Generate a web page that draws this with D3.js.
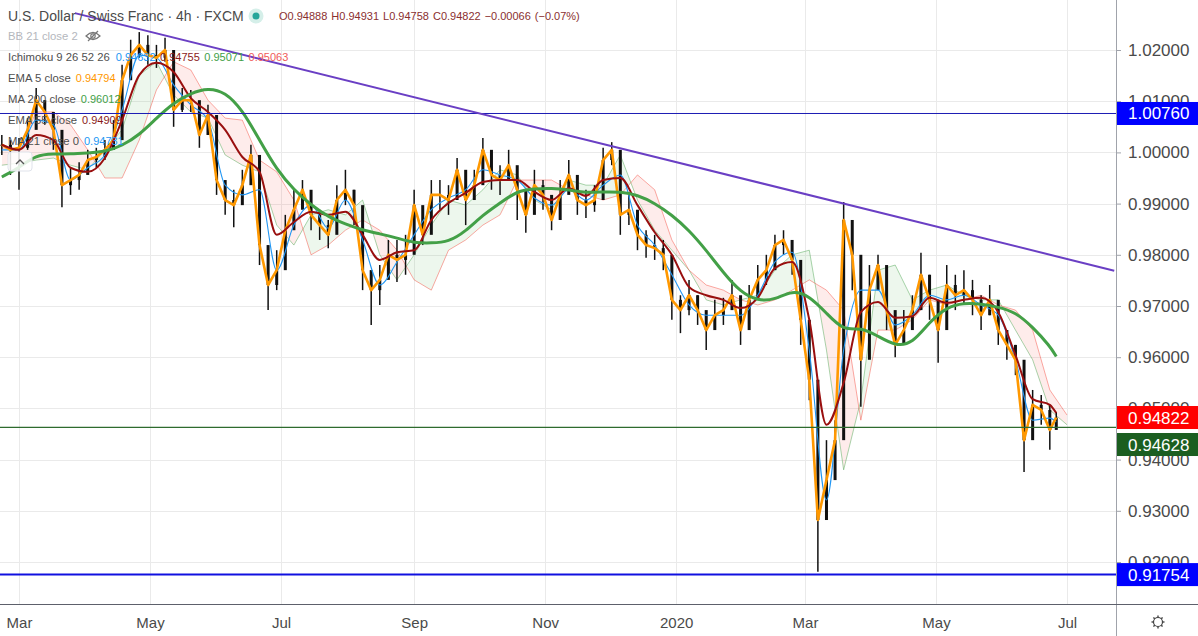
<!DOCTYPE html>
<html><head><meta charset="utf-8">
<script src="https://cdn.jsdelivr.net/npm/d3@7"></script>
<style>
html,body{margin:0;padding:0;background:#fff;}
svg{display:block;font-family:"Liberation Sans",Arial,sans-serif;}
</style></head><body>
<svg id="c" width="1198" height="636"></svg>
<script>
// ---------- DATA ----------
const priceDates = ["2019-02-21","2019-02-25","2019-03-01","2019-03-05","2019-03-09","2019-03-13","2019-03-17","2019-03-21","2019-03-25","2019-03-29",
"2019-04-02","2019-04-06","2019-04-10","2019-04-14","2019-04-18","2019-04-22","2019-04-26","2019-04-30","2019-05-04","2019-05-08",
"2019-05-12","2019-05-16","2019-05-20","2019-05-24","2019-05-28","2019-06-01","2019-06-05","2019-06-09","2019-06-13","2019-06-17",
"2019-06-21","2019-06-25","2019-06-29","2019-07-03","2019-07-07","2019-07-11","2019-07-15","2019-07-19","2019-07-23","2019-07-27",
"2019-07-31","2019-08-04","2019-08-08","2019-08-12","2019-08-16","2019-08-20","2019-08-24","2019-08-28","2019-09-01","2019-09-05",
"2019-09-09","2019-09-13","2019-09-17","2019-09-21","2019-09-25","2019-09-29","2019-10-03","2019-10-07","2019-10-11","2019-10-15",
"2019-10-19","2019-10-23","2019-10-27","2019-10-31","2019-11-04","2019-11-08","2019-11-12","2019-11-16","2019-11-20","2019-11-24",
"2019-11-28","2019-12-02","2019-12-06","2019-12-10","2019-12-14","2019-12-18","2019-12-22","2019-12-26","2019-12-30","2020-01-03",
"2020-01-07","2020-01-11","2020-01-15","2020-01-19","2020-01-23","2020-01-27","2020-01-31","2020-02-04","2020-02-08","2020-02-12",
"2020-02-16","2020-02-20","2020-02-24","2020-02-28","2020-03-03","2020-03-07","2020-03-11","2020-03-15","2020-03-19","2020-03-23",
"2020-03-27","2020-03-31","2020-04-04","2020-04-08","2020-04-12","2020-04-16","2020-04-20","2020-04-24","2020-04-28","2020-05-02",
"2020-05-06","2020-05-10","2020-05-14","2020-05-18","2020-05-22","2020-05-26","2020-05-30","2020-06-03","2020-06-07","2020-06-11",
"2020-06-15","2020-06-19","2020-06-23","2020-06-26"];

const closes = [1.0015,1.0005,1.0009,1.0044,1.0102,1.0079,1.0044,0.9936,0.9946,0.9956,
0.9985,0.9991,1.0005,1.0024,1.0141,1.0190,1.0210,1.0190,1.0185,1.0200,
1.0083,1.0102,1.0102,1.0034,1.0073,0.9946,0.9907,0.9897,0.9936,0.9995,
0.9819,0.9741,0.9770,0.9848,0.9888,0.9927,0.9878,0.9858,0.9839,0.9907,
0.9927,0.9897,0.9770,0.9731,0.9751,0.9800,0.9790,0.9800,0.9897,0.9839,
0.9917,0.9917,0.9907,0.9966,0.9907,0.9936,1.0005,0.9956,0.9946,0.9975,
0.9927,0.9878,0.9936,0.9917,0.9868,0.9917,0.9956,0.9907,0.9897,0.9907,
0.9985,1.0005,0.9878,0.9888,0.9839,0.9819,0.9813,0.9800,0.9712,0.9692,
0.9721,0.9692,0.9653,0.9682,0.9692,0.9721,0.9653,0.9712,0.9751,0.9770,
0.9819,0.9829,0.9790,0.9673,0.9556,0.9282,0.9360,0.9438,0.9868,0.9800,
0.9595,0.9731,0.9780,0.9692,0.9624,0.9653,0.9692,0.9761,0.9712,0.9653,
0.9741,0.9721,0.9731,0.9712,0.9682,0.9712,0.9653,0.9624,0.9595,0.9438,
0.9507,0.9497,0.9458,0.94822];

const highs = [1.0034,1.0024,1.0028,1.0067,1.0126,1.0102,1.0073,0.9975,0.9970,0.9981,
1.0005,1.0009,1.0024,1.0063,1.0171,1.0220,1.0235,1.0229,1.0210,1.0224,
1.0112,1.0126,1.0122,1.0067,1.0093,0.9985,0.9936,0.9927,0.9966,1.0015,
0.9848,0.9780,0.9809,0.9878,0.9927,0.9946,0.9907,0.9888,0.9868,0.9936,
0.9966,0.9927,0.9819,0.9770,0.9780,0.9829,0.9829,0.9839,0.9927,0.9888,
0.9946,0.9946,0.9936,0.9989,0.9936,0.9966,1.0028,0.9985,0.9975,1.0005,
0.9966,0.9907,0.9966,0.9946,0.9907,0.9946,0.9985,0.9936,0.9927,0.9936,
1.0009,1.0020,0.9917,0.9917,0.9868,0.9848,0.9839,0.9829,0.9751,0.9721,
0.9751,0.9721,0.9682,0.9712,0.9716,0.9751,0.9692,0.9741,0.9780,0.9800,
0.9839,0.9848,0.9819,0.9721,0.9595,0.9360,0.9438,0.9477,0.9903,0.9848,
0.9653,0.9780,0.9800,0.9731,0.9673,0.9692,0.9721,0.9804,0.9761,0.9712,
0.9780,0.9761,0.9770,0.9751,0.9721,0.9741,0.9692,0.9653,0.9624,0.9516,
0.9536,0.9526,0.9507,0.94931];

const lows = [0.9995,0.9956,0.9927,1.0005,1.0073,1.0054,1.0005,0.9893,0.9917,0.9927,
0.9962,0.9970,0.9985,1.0005,1.0112,1.0161,1.0185,1.0171,1.0165,1.0177,
1.0050,1.0079,1.0079,1.0009,1.0048,0.9917,0.9878,0.9854,0.9917,0.9966,
0.9780,0.9692,0.9731,0.9819,0.9858,0.9897,0.9848,0.9829,0.9813,0.9878,
0.9897,0.9858,0.9731,0.9663,0.9702,0.9761,0.9747,0.9761,0.9858,0.9819,
0.9888,0.9888,0.9878,0.9927,0.9858,0.9907,0.9966,0.9927,0.9917,0.9946,
0.9868,0.9843,0.9907,0.9888,0.9848,0.9888,0.9927,0.9878,0.9872,0.9884,
0.9956,0.9975,0.9839,0.9858,0.9809,0.9794,0.9790,0.9770,0.9673,0.9647,
0.9682,0.9663,0.9614,0.9653,0.9663,0.9692,0.9624,0.9682,0.9721,0.9741,
0.9790,0.9800,0.9761,0.9624,0.9516,0.9181,0.9302,0.9399,0.9790,0.9731,
0.9503,0.9673,0.9741,0.9653,0.9600,0.9624,0.9663,0.9731,0.9673,0.9589,
0.9712,0.9692,0.9702,0.9682,0.9653,0.9682,0.9624,0.9595,0.9565,0.9376,
0.9477,0.9468,0.9419,0.94758];

const maDates = ["2019-02-21","2019-03-01","2019-03-09","2019-03-17","2019-03-25","2019-04-02","2019-04-10","2019-04-18","2019-04-26","2019-05-04",
"2019-05-12","2019-05-20","2019-05-28","2019-06-05","2019-06-13","2019-06-21","2019-06-29","2019-07-07","2019-07-15","2019-07-23",
"2019-07-31","2019-08-08","2019-08-16","2019-08-24","2019-09-01","2019-09-09","2019-09-17","2019-09-25","2019-10-03","2019-10-11",
"2019-10-19","2019-10-27","2019-11-04","2019-11-12","2019-11-20","2019-11-28","2019-12-06","2019-12-14","2019-12-22","2019-12-30",
"2020-01-07","2020-01-15","2020-01-23","2020-01-31","2020-02-08","2020-02-16","2020-02-24","2020-03-03","2020-03-11","2020-03-19",
"2020-03-27","2020-04-04","2020-04-12","2020-04-20","2020-04-28","2020-05-06","2020-05-14","2020-05-22","2020-05-30","2020-06-07",
"2020-06-15","2020-06-23","2020-06-26"];

const ema55 = [1.0015,1.0005,1.0034,1.0024,0.9970,0.9962,0.9989,1.0063,1.0151,1.0175,
1.0157,1.0106,1.0079,1.0044,0.9991,0.9962,0.9839,0.9864,0.9884,0.9878,
0.9884,0.9839,0.9790,0.9805,0.9809,0.9868,0.9901,0.9921,0.9942,0.9946,
0.9946,0.9923,0.9907,0.9930,0.9915,0.9946,0.9950,0.9897,0.9844,0.9800,
0.9737,0.9721,0.9712,0.9696,0.9716,0.9774,0.9786,0.9673,0.9468,0.9550,
0.9688,0.9708,0.9677,0.9680,0.9716,0.9706,0.9712,0.9716,0.9688,0.9604,
0.9518,0.9507,0.94909];

const ma200 = [0.9952,0.9970,0.9995,0.9997,0.9997,0.9999,1.0001,1.0013,1.0034,1.0067,
1.0097,1.0116,1.0126,1.0118,1.0083,1.0024,0.9966,0.9927,0.9897,0.9874,
0.9860,0.9848,0.9841,0.9833,0.9823,0.9823,0.9825,0.9846,0.9878,0.9901,
0.9925,0.9929,0.9930,0.9927,0.9921,0.9923,0.9923,0.9917,0.9901,0.9878,
0.9848,0.9809,0.9765,0.9727,0.9710,0.9712,0.9731,0.9720,0.9686,0.9651,
0.9659,0.9641,0.9622,0.9626,0.9669,0.9698,0.9706,0.9704,0.9698,0.9688,
0.9659,0.9622,0.96012];

const ma21 = [1.0005,1.0005,1.0063,1.0054,0.9946,0.9970,0.9995,1.0083,1.0190,1.0185,
1.0132,1.0093,1.0063,0.9936,0.9917,0.9927,0.9770,0.9858,0.9897,0.9852,
0.9907,0.9829,0.9741,0.9786,0.9839,0.9888,0.9911,0.9927,0.9966,0.9956,
0.9946,0.9911,0.9897,0.9927,0.9907,0.9936,0.9956,0.9858,0.9819,0.9761,
0.9702,0.9682,0.9682,0.9682,0.9721,0.9786,0.9805,0.9614,0.9321,0.9614,
0.9731,0.9731,0.9663,0.9682,0.9721,0.9712,0.9721,0.9702,0.9682,0.9595,
0.9477,0.9481,0.94731];

const cloudDates = ["2019-02-21","2019-03-01","2019-03-09","2019-03-17","2019-03-25","2019-04-02","2019-04-10","2019-04-18","2019-04-26","2019-05-04",
"2019-05-12","2019-05-20","2019-05-28","2019-06-05","2019-06-13","2019-06-21","2019-06-29","2019-07-07","2019-07-15","2019-07-23",
"2019-07-31","2019-08-08","2019-08-16","2019-08-24","2019-09-01","2019-09-09","2019-09-17","2019-09-25","2019-10-03","2019-10-11",
"2019-10-19","2019-10-27","2019-11-04","2019-11-12","2019-11-20","2019-11-28","2019-12-06","2019-12-14","2019-12-22","2019-12-30",
"2020-01-07","2020-01-15","2020-01-23","2020-01-31","2020-02-08","2020-02-16","2020-02-24","2020-03-03","2020-03-11","2020-03-19",
"2020-03-27","2020-04-04","2020-04-12","2020-04-20","2020-04-28","2020-05-06","2020-05-14","2020-05-22","2020-05-30","2020-06-07",
"2020-06-15","2020-06-23","2020-07-01"];

const spanA = [0.9975,0.9979,0.9985,0.9989,0.9975,0.9966,1.0005,1.0044,1.0151,1.0177,
1.0112,1.0079,1.0067,0.9995,0.9975,0.9962,0.9858,0.9819,0.9878,0.9888,
0.9878,0.9907,0.9800,0.9751,0.9800,0.9858,0.9907,0.9897,0.9927,0.9966,
0.9956,0.9907,0.9888,0.9946,0.9936,0.9936,0.9995,0.9907,0.9848,0.9809,
0.9770,0.9712,0.9702,0.9712,0.9721,0.9770,0.9800,0.9809,0.9614,0.9380,
0.9516,0.9770,0.9780,0.9712,0.9731,0.9741,0.9721,0.9712,0.9712,0.9653,
0.9595,0.9497,0.9468];

const spanB = [1.0009,1.0005,1.0079,1.0079,1.0054,1.0005,0.9950,0.9950,1.0024,1.0122,
1.0177,1.0161,1.0102,1.0067,1.0063,0.9985,0.9962,0.9907,0.9800,0.9819,
0.9848,0.9868,0.9848,0.9809,0.9751,0.9731,0.9809,0.9829,0.9858,0.9878,
0.9946,0.9946,0.9946,0.9927,0.9917,0.9907,0.9917,0.9956,0.9927,0.9829,
0.9770,0.9741,0.9731,0.9712,0.9702,0.9712,0.9731,0.9751,0.9731,0.9692,
0.9477,0.9653,0.9653,0.9673,0.9712,0.9702,0.9712,0.9721,0.9702,0.9692,
0.9653,0.9536,0.9487];

const trendDates = ["2019-03-27","2020-07-23"];
const trendValues = [1.0272, 0.9769];

const levelValues = [1.0076, 0.94628, 0.91754];
const levelNames = ["resistance", "support", "low"];
const lastPrice = 0.94822;

const priceTicks = [1.02,1.01,1.00,0.99,0.98,0.97,0.96,0.95,0.94,0.93,0.92];
const monthTickDates = ["2019-03-01","2019-05-01","2019-07-01","2019-09-01","2019-11-01","2020-01-01","2020-03-01","2020-05-01","2020-07-01"];
const monthTickLabels = ["Mar","May","Jul","Sep","Nov","2020","Mar","May","Jul"];

const titleText = "U.S. Dollar / Swiss Franc · 4h · FXCM";
const ohlcLabels = ["O0.94888","H0.94931","L0.94758","C0.94822","−0.00066","(−0.07%)"];
const ichimokuValues = ["0.94632","0.94755","0.95071","0.95063"];

// ---------- CHART ----------
const W = 1198, H = 636, PR = 1116, PB = 604;
const parse = d3.timeParse("%Y-%m-%d");
const svg = d3.select("#c");
const x = d3.scaleTime().domain([parse("2019-03-01"), parse("2020-07-01")]).range([19, 1067]);
const y = d3.scaleLinear().domain([0.92, 1.02]).range([562, 50]);
const fmt = d3.format(".5f");

const defs = svg.append("defs");
defs.append("clipPath").attr("id","plotClip").append("rect").attr("x",0).attr("y",0).attr("width",PR).attr("height",PB);

// grid
const grid = svg.append("g");
grid.selectAll("line.h").data(priceTicks).join("line")
  .attr("x1",0).attr("x2",PR).attr("y1",d=>Math.round(y(d))+0.5).attr("y2",d=>Math.round(y(d))+0.5)
  .attr("stroke","#eaeaea").attr("stroke-width",1);
grid.selectAll("line.v").data(monthTickDates).join("line")
  .attr("x1",d=>Math.round(x(parse(d)))+0.5).attr("x2",d=>Math.round(x(parse(d)))+0.5).attr("y1",0).attr("y2",PB)
  .attr("stroke","#eaeaea").attr("stroke-width",1);

const plot = svg.append("g").attr("clip-path","url(#plotClip)");

// Ichimoku cloud
const cloud = cloudDates.map((d,i)=>({d:parse(d), a:spanA[i], b:spanB[i]}));
defs.append("clipPath").attr("id","aboveB").append("path")
  .attr("d", d3.area().x(d=>x(d.d)).y0(0).y1(d=>y(d.b))(cloud));
defs.append("clipPath").attr("id","belowB").append("path")
  .attr("d", d3.area().x(d=>x(d.d)).y0(PB).y1(d=>y(d.b))(cloud));
plot.append("path").attr("clip-path","url(#aboveB)")
  .attr("d", d3.area().x(d=>x(d.d)).y0(PB).y1(d=>y(d.a))(cloud))
  .attr("fill","rgba(76,175,80,0.10)");
plot.append("path").attr("clip-path","url(#belowB)")
  .attr("d", d3.area().x(d=>x(d.d)).y0(0).y1(d=>y(d.a))(cloud))
  .attr("fill","rgba(244,67,54,0.10)");
plot.append("path").datum(cloud).attr("fill","none").attr("stroke","rgba(67,160,71,0.45)").attr("stroke-width",1)
  .attr("d", d3.line().x(d=>x(d.d)).y(d=>y(d.a)));
plot.append("path").datum(cloud).attr("fill","none").attr("stroke","rgba(244,67,54,0.45)").attr("stroke-width",1)
  .attr("d", d3.line().x(d=>x(d.d)).y(d=>y(d.b)));

// candles
const price = priceDates.map((d,i)=>({d:parse(d), c:closes[i], h:highs[i], l:lows[i], o: i>0?closes[i-1]:closes[i]}));
const cg = plot.append("g");
cg.selectAll("line.w").data(price).join("line")
  .attr("x1",d=>x(d.d)).attr("x2",d=>x(d.d)).attr("y1",d=>y(d.h)).attr("y2",d=>y(d.l))
  .attr("stroke","#111").attr("stroke-width",1.5);
cg.selectAll("rect.b").data(price).join("rect")
  .attr("x",d=>x(d.d)-1.5).attr("width",3)
  .attr("y",d=>y(Math.max(d.o,d.c))).attr("height",d=>Math.max(1,Math.abs(y(d.o)-y(d.c))))
  .attr("fill","#111");

const ma = maDates.map((d,i)=>({d:parse(d), e55:ema55[i], m200:ma200[i], m21:ma21[i]}));

// MA 21 (blue)
plot.append("path").datum(ma).attr("fill","none").attr("stroke","#2196f3").attr("stroke-width",1.1)
  .attr("d", d3.line().x(d=>x(d.d)).y(d=>y(d.m21)).curve(d3.curveMonotoneX));
// EMA 5 (orange) through closes
plot.append("path").datum(price).attr("fill","none").attr("stroke","#ff9800").attr("stroke-width",2.6)
  .attr("stroke-linejoin","round")
  .attr("d", d3.line().x(d=>x(d.d)).y(d=>y(d.c)));
// EMA 55 (dark red)
plot.append("path").datum(ma).attr("fill","none").attr("stroke","#990f0f").attr("stroke-width",2)
  .attr("d", d3.line().x(d=>x(d.d)).y(d=>y(d.e55)).curve(d3.curveMonotoneX));
// MA 200 (green)
plot.append("path").datum(ma).attr("fill","none").attr("stroke","#43a047").attr("stroke-width",3)
  .attr("d", d3.line().x(d=>x(d.d)).y(d=>y(d.m200)).curve(d3.curveBasis));

// horizontal levels
const levelStyle = {resistance:{c:"#1c1cb4",w:1}, support:{c:"#2e6b2e",w:1.2}, low:{c:"#1010e0",w:2}};
plot.selectAll("line.lv").data(levelValues).join("line")
  .attr("x1",0).attr("x2",PR).attr("y1",d=>y(d)).attr("y2",d=>y(d))
  .attr("stroke",(d,i)=>levelStyle[levelNames[i]].c).attr("stroke-width",(d,i)=>levelStyle[levelNames[i]].w);

// trend line
plot.append("line")
  .attr("x1",x(parse(trendDates[0]))).attr("y1",y(trendValues[0]))
  .attr("x2",x(parse(trendDates[1]))).attr("y2",y(trendValues[1]))
  .attr("stroke","#6a3fc4").attr("stroke-width",2);

// axes borders
svg.append("line").attr("x1",PR+0.5).attr("x2",PR+0.5).attr("y1",0).attr("y2",H).attr("stroke","#a0a3ab").attr("stroke-width",1);
svg.append("line").attr("x1",0).attr("x2",W).attr("y1",PB+0.5).attr("y2",PB+0.5).attr("stroke","#5d606b").attr("stroke-width",1.2);

// right axis
const ra = svg.append("g").attr("transform",`translate(${PR},0)`)
  .call(d3.axisRight(y).tickValues(priceTicks).tickFormat(fmt).tickSize(5).tickPadding(7));
ra.select(".domain").remove();
ra.selectAll(".tick line").attr("stroke","#a0a3ab");
ra.selectAll(".tick text").attr("fill","#4a4a4a").style("font-size","17px").style("font-family","'Liberation Sans',Arial,sans-serif");

// bottom axis
const ba = svg.append("g").attr("transform",`translate(0,${PB})`)
  .call(d3.axisBottom(x).tickValues(monthTickDates.map(parse)).tickFormat((d,i)=>monthTickLabels[i]).tickSize(0).tickPadding(13));
ba.select(".domain").remove();
ba.selectAll(".tick text").attr("fill","#4a4a4a").style("font-size","15px").style("font-family","'Liberation Sans',Arial,sans-serif");

// price label boxes (with simple collision avoidance)
const boxes = [
  {v:levelValues[0], fill:"#0000ff"},
  {v:lastPrice, fill:"#ff0000"},
  {v:levelValues[1], fill:"#1b5e20"},
  {v:levelValues[2], fill:"#0000ff"}
].map(b=>({...b, cy:y(b.v)})).sort((a,b)=>a.cy-b.cy);
const BH = 23;
for (let i=1;i<boxes.length;i++){ if (boxes[i].cy - boxes[i-1].cy < BH+4) boxes[i].cy = boxes[i-1].cy + BH + 4; }
const bg = svg.append("g");
boxes.forEach(b=>{
  bg.append("rect").attr("x",PR+1).attr("y",b.cy-BH/2).attr("width",W-PR-1).attr("height",BH).attr("fill",b.fill);
  bg.append("text").attr("x",PR+12).attr("y",b.cy+6).attr("fill","#fff").style("font-size","17px").text(fmt(b.v));
});

// gear icon
const gear = svg.append("g").attr("transform","translate(1158,622)");
gear.append("circle").attr("r",4.5).attr("fill","none").attr("stroke","#444").attr("stroke-width",1.2);
d3.range(8).forEach(k=>{ const a=k*Math.PI/4; gear.append("line").attr("x1",4.5*Math.cos(a)).attr("y1",4.5*Math.sin(a)).attr("x2",6.5*Math.cos(a)).attr("y2",6.5*Math.sin(a)).attr("stroke","#444").attr("stroke-width",1.4); });

// legend
const lg = svg.append("g");
function row(yy, items, x0){
  let cx = x0;
  items.forEach(it=>{
    const t = lg.append("text").attr("x",cx).attr("y",yy).attr("fill",it.c).style("font-size",it.fs+"px").text(it.t);
    cx += t.node().getComputedTextLength() + it.gap;
  });
  return cx;
}
lg.append("text").attr("x",8).attr("y",21).attr("fill","#4a4a4a").style("font-size","14px").text(titleText);
lg.append("circle").attr("cx",256).attr("cy",16).attr("r",7.5).attr("fill","#d5efe9");
lg.append("circle").attr("cx",256).attr("cy",16).attr("r",3.5).attr("fill","#26a69a");
row(20, ohlcLabels.map(t=>({t, c:"#8a2f2f", fs:11, gap:4})), 279);

const FS = 11.3, LC = "#4f4f4f";
row(40, [{t:"BB 21 close 2", c:"#b4b7bd", fs:FS, gap:0}], 8);
// eye-slash icon
const eye = lg.append("g").attr("transform","translate(93,36)");
eye.append("path").attr("d","M-7,0 Q0,-7 7,0 Q0,7 -7,0 Z").attr("fill","none").attr("stroke","#777").attr("stroke-width",1.2);
eye.append("circle").attr("r",2.2).attr("fill","none").attr("stroke","#777").attr("stroke-width",1.2);
eye.append("line").attr("x1",-5).attr("y1",5).attr("x2",5).attr("y2",-5).attr("stroke","#777").attr("stroke-width",1.3);

const ichColors = ["#2196f3","#8b1a1a","#43a047","#f05a5a"];
row(61, [{t:"Ichimoku 9 26 52 26", c:LC, fs:FS, gap:6}].concat(ichimokuValues.map((t,i)=>({t, c:ichColors[i], fs:11, gap:4.5}))), 8);
row(82, [{t:"EMA 5 close", c:LC, fs:FS, gap:5},{t:"0.94794", c:"#ff9800", fs:11, gap:0}], 8);
row(103, [{t:"MA 200 close", c:LC, fs:FS, gap:5},{t:fmt(ma200[ma200.length-1]), c:"#43a047", fs:11, gap:0}], 8);
row(124, [{t:"EMA 55 close", c:LC, fs:FS, gap:5},{t:fmt(ema55[ema55.length-1]), c:"#8b1a1a", fs:11, gap:0}], 8);
row(145, [{t:"MA 21 close 0", c:LC, fs:FS, gap:5},{t:fmt(ma21[ma21.length-1]), c:"#2196f3", fs:11, gap:0}], 8);

// collapse button
const cb = lg.append("g").attr("transform","translate(8,152)");
cb.append("rect").attr("width",24).attr("height",19).attr("rx",3).attr("fill","rgba(255,255,255,0.85)").attr("stroke","#e0e3eb");
cb.append("path").attr("d","M8,12 L12,8 L16,12").attr("fill","none").attr("stroke","#555").attr("stroke-width",1.3);
</script></body></html>
